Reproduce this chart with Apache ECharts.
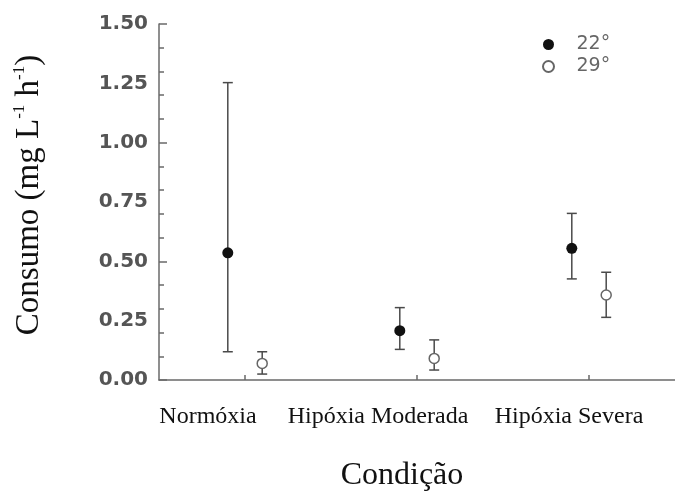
<!DOCTYPE html>
<html>
<head>
<meta charset="utf-8">
<script src="https://cdn.jsdelivr.net/npm/echarts@6/dist/echarts.min.js"></script>
<style>html,body{margin:0;padding:0;background:#fff;}#c{width:675px;height:492px;}</style>
</head>
<body>
<div id="c"></div>
<script>
// Data
const categories = ['Normóxia', 'Hipóxia Moderada', 'Hipóxia Severa'];
const yTickLabels = ['0.00', '0.25', '0.50', '0.75', '1.00', '1.25', '1.50'];
const seriesNames = ['22°', '29°'];
// mean values
const mean22 = [0.536, 0.208, 0.555];
const mean29 = [0.070, 0.091, 0.358];
// upper / lower ends of error bars
const upper22 = [1.253, 0.305, 0.702];
const lower22 = [0.119, 0.129, 0.426];
const upper29 = [0.119, 0.169, 0.454];
const lower29 = [0.025, 0.042, 0.264];
// x offsets of the two temperatures within each category (in category units)
const xOffsets = [-0.1, 0.1];

const chart = echarts.init(document.getElementById('c'));

function pts(means, off) {
  return means.map((v, i) => [i + 0.5 + off, v]);
}
function bars(lows, ups, off) {
  return lows.map((l, i) => [i + 0.5 + off, l, ups[i]]);
}

function renderErr(params, api) {
  const x = api.value(0);
  const lo = api.coord([x, api.value(1)]);
  const hi = api.coord([x, api.value(2)]);
  const w = 5;
  const st = { stroke: '#4a4a4a', lineWidth: 1.5 };
  return {
    type: 'group',
    children: [
      { type: 'line', shape: { x1: lo[0], y1: lo[1], x2: hi[0], y2: hi[1] }, style: st },
      { type: 'line', shape: { x1: hi[0] - w, y1: hi[1], x2: hi[0] + w, y2: hi[1] }, style: st },
      { type: 'line', shape: { x1: lo[0] - w, y1: lo[1], x2: lo[0] + w, y2: lo[1] }, style: st }
    ]
  };
}

const labelOffsets = { 'Normóxia': 74, 'Hipóxia Moderada': 78, 'Hipóxia Severa': 40 };

const option = {
  animation: false,
  backgroundColor: '#fff',
  grid: { left: 159, right: 0, top: 24, bottom: 112, containLabel: false, outerBoundsMode: 'none' },
  legend: {
    orient: 'vertical',
    left: 537,
    top: 30,
    itemWidth: 46,
    itemHeight: 11,
    itemGap: 3,
    textStyle: { fontFamily: 'DejaVu Sans', fontSize: 19, color: '#666' },
    data: seriesNames
  },
  xAxis: [
    {
      type: 'category',
      data: categories,
      boundaryGap: true,
      axisLine: { show: true, lineStyle: { color: '#6a6a6a', width: 1.5 } },
      axisTick: { show: true, inside: true, alignWithLabel: true, length: 5, lineStyle: { color: '#6a6a6a', width: 1.5 } },
      axisLabel: {
        margin: 25,
        formatter: function (v) {
          return '{' + (v === 'Normóxia' ? 'a' : v === 'Hipóxia Moderada' ? 'b' : 'c') + '|' + v + '}';
        },
        rich: {
          a: { fontFamily: 'Liberation Serif', fontSize: 24, color: '#111', padding: [0, labelOffsets['Normóxia'], 0, 0] },
          b: { fontFamily: 'Liberation Serif', fontSize: 24, color: '#111', padding: [0, labelOffsets['Hipóxia Moderada'], 0, 0] },
          c: { fontFamily: 'Liberation Serif', fontSize: 24, color: '#111', padding: [0, labelOffsets['Hipóxia Severa'], 0, 0] }
        }
      },
      splitLine: { show: false },
      name: 'Condição',
      nameLocation: 'middle',
      nameGap: 80,
      nameTextStyle: { fontFamily: 'Liberation Serif', fontSize: 32, color: '#111', padding: [0, 30, 0, 0] }
    },
    {
      type: 'value',
      min: 0,
      max: 3,
      show: false
    }
  ],
  yAxis: [
    {
      type: 'value',
      min: 0,
      max: 1.5,
      interval: 0.5,
      position: 'left',
      axisLine: { show: true, lineStyle: { color: '#6a6a6a', width: 1.5 } },
      axisTick: { show: true, inside: true, length: 8, lineStyle: { color: '#6a6a6a', width: 1.5 } },
      minorTick: { show: true, splitNumber: 5, length: 5, lineStyle: { color: '#6a6a6a', width: 1.5 } },
      axisLabel: { show: false },
      splitLine: { show: false },
      name: '{m|Consumo (mg L}{s|-1}{m| h}{s|-1}{m|)}',
      nameLocation: 'middle',
      nameGap: 112,
      nameTextStyle: {
        padding: [0, 0, 0, 14],
        rich: {
          m: { fontFamily: 'Liberation Serif', fontSize: 33, color: '#111', lineHeight: 36 },
          s: { fontFamily: 'Liberation Serif', fontSize: 17, color: '#111', lineHeight: 19, verticalAlign: 'top' }
        }
      }
    },
    {
      type: 'value',
      min: 0,
      max: 1.5,
      interval: 0.25,
      position: 'left',
      offset: 0,
      axisLine: { show: false },
      axisTick: { show: false },
      splitLine: { show: false },
      axisLabel: {
        margin: 11,
        fontFamily: 'DejaVu Sans',
        fontWeight: 'bold',
        fontSize: 20,
        color: '#555',
        formatter: function (v) { return yTickLabels[Math.round(v / 0.25)]; }
      }
    }
  ],
  series: [
    {
      type: 'custom',
      xAxisIndex: 1,
      yAxisIndex: 0,
      renderItem: renderErr,
      data: bars(lower22, upper22, xOffsets[0]),
      z: 1,
      silent: true
    },
    {
      type: 'custom',
      xAxisIndex: 1,
      yAxisIndex: 0,
      renderItem: renderErr,
      data: bars(lower29, upper29, xOffsets[1]),
      z: 1,
      silent: true
    },
    {
      name: seriesNames[0],
      type: 'scatter',
      xAxisIndex: 1,
      yAxisIndex: 0,
      symbol: 'circle',
      symbolSize: 11,
      itemStyle: { color: '#111', opacity: 1 },
      data: pts(mean22, xOffsets[0]),
      z: 5
    },
    {
      name: seriesNames[1],
      type: 'scatter',
      xAxisIndex: 1,
      yAxisIndex: 0,
      symbol: 'circle',
      symbolSize: 10,
      itemStyle: { color: '#fff', borderColor: '#666', borderWidth: 1.5, opacity: 1 },
      data: pts(mean29, xOffsets[1]),
      z: 5
    }
  ]
};
chart.setOption(option);
</script>
</body>
</html>
